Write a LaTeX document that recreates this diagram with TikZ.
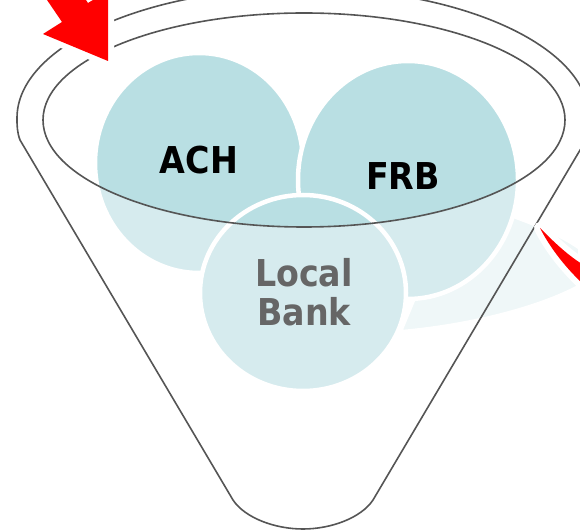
\documentclass[tikz,border=0pt]{standalone}
\usepackage{fontspec}
\newfontfamily\bubblefont{DejaVu Sans Condensed}
\definecolor{tealdark}{HTML}{B9DFE3}
\definecolor{teallight}{HTML}{D6EBEE}
\definecolor{tealpale}{HTML}{EFF7F8}
\definecolor{rimgray}{HTML}{555555}
\definecolor{textgray}{HTML}{666666}
% the three bubbles, filled with one colour
\newcommand\bubbles[1]{
  \filldraw[bubble,fill=#1] (ACHc) ellipse [x radius=104, y radius=110];
  \filldraw[bubble,fill=#1] (FRBc) ellipse [x radius=110, y radius=119];
  \filldraw[bubble,fill=#1] (LBc)  ellipse [x radius=103, y radius=98];
}

\begin{document}
\begin{tikzpicture}[
    x=1pt, y=1pt,
    rim/.style={
      draw=rimgray, line width=1.6pt
    },
    bubble/.style={
      draw=white, line width=4.5pt
    },
    bubbletext/.style={
      font=\bubblefont\bfseries\fontsize{37}{39}\selectfont,
      align=center, inner sep=0pt
    },
    pointer/.style={
      fill=red,
      preaction={draw=white, fill=white, line width=12pt, line join=round}
    }
  ]
    \clip (0,0) rectangle (580,530);

    \coordinate (ACHc) at (199,367);
    \coordinate (FRBc) at (408,350);
    \coordinate (LBc)  at (303,237);

    % pale wedge behind FRB
    \filldraw[fill=tealpale, draw=white, line width=4pt]
      (400,198) .. controls (470,204) and (540,222) .. (580,244)
      -- (580,282) .. controls (560,296) and (535,306) .. (513,314)
      -- (430,270) -- cycle;

    % light below the rim, dark inside it
    \bubbles{teallight}
    \begin{scope}
      \clip (304,410) ellipse [x radius=261, y radius=107];
      \bubbles{tealdark}
    \end{scope}

    % funnel
    \draw[rim] (304,410) ellipse [x radius=261, y radius=107];
    \draw[rim] (20,390) .. controls (17,398) and (17,405) .. (17,412)
      arc[start angle=180, end angle=0, x radius=286, y radius=130]
      .. controls (589,405) and (589,398) .. (586,390)
      -- (373,30) .. controls (361,12) and (331,1) .. (303,1)
      .. controls (275,1) and (245,12) .. (233,30) -- cycle;

    \node[bubbletext]                 (ACH) at (199,370) {ACH};
    \node[bubbletext]                 (FRB) at (403,354) {FRB};
    \node[bubbletext, text=textgray]  (LB)  at (304,238) {Local\\Bank};

    % red arrows
    \path[pointer] (28,558) -- (62,508) -- (43,496) -- (108,469)
      -- (108,539) -- (88,527) -- (54,577) -- cycle;
    \path[pointer] (540,302) .. controls (552,290) and (566,276) .. (582,266)
      -- (582,247) .. controls (562,266) and (548,286) .. cycle;
\end{tikzpicture}
\end{document}
